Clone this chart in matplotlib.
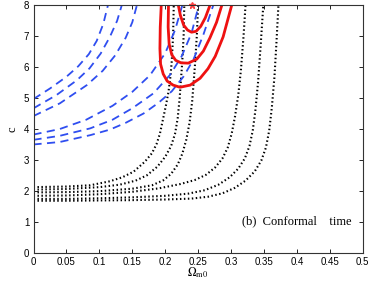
import matplotlib
matplotlib.use("Agg")
import matplotlib.pyplot as plt

plt.rcParams['mathtext.fontset'] = 'stix'
plt.rcParams['font.family'] = ['Liberation Sans', 'DejaVu Sans']

# Black dotted curves (x = Omega_m0, y = c)
b1_x = [0, 0.05, 0.086, 0.116, 0.135, 0.152, 0.169, 0.180, 0.187, 0.192, 0.196, 0.201, 0.205, 0.208, 0.210, 0.212, 0.213]
b1_y = [2.12, 2.14, 2.18, 2.31, 2.44, 2.62, 2.94, 3.22, 3.52, 3.85, 4.25, 4.75, 5.2, 5.7, 6.2, 7.0, 8.0]
b2_x = [0, 0.05, 0.10, 0.131, 0.155, 0.172, 0.188, 0.200, 0.209, 0.215, 0.219, 0.222, 0.226, 0.228, 0.229]
b2_y = [2.04, 2.06, 2.12, 2.2, 2.33, 2.5, 2.78, 3.1, 3.45, 3.85, 4.35, 5.0, 6.2, 7.0, 8.0]
b3_x = [0, 0.05, 0.10, 0.15, 0.18, 0.197, 0.209, 0.219, 0.226, 0.232, 0.237, 0.241, 0.245, 0.248, 0.250]
b3_y = [1.95, 1.96, 1.99, 2.07, 2.18, 2.34, 2.55, 2.85, 3.2, 3.65, 4.2, 4.9, 6.0, 7.0, 8.0]
b4_x = [0, 0.05, 0.10, 0.15, 0.19, 0.223, 0.245, 0.262, 0.276, 0.287, 0.295, 0.301, 0.306, 0.311, 0.315, 0.319, 0.322]
b4_y = [1.84, 1.85, 1.89, 1.97, 2.08, 2.22, 2.35, 2.52, 2.76, 3.05, 3.4, 3.85, 4.4, 5.1, 5.9, 7.0, 8.0]
b5_x = [0, 0.05, 0.10, 0.15, 0.20, 0.235, 0.26, 0.281, 0.298, 0.311, 0.321, 0.328, 0.333, 0.337, 0.341, 0.345, 0.349]
b5_y = [1.74, 1.74, 1.76, 1.79, 1.84, 1.91, 2.02, 2.2, 2.44, 2.72, 3.05, 3.45, 3.95, 4.6, 5.5, 6.7, 8.0]
b6_x = [0, 0.05, 0.10, 0.15, 0.20, 0.24, 0.265, 0.287, 0.306, 0.322, 0.336, 0.346, 0.353, 0.358, 0.362, 0.366, 0.369, 0.372]
b6_y = [1.68, 1.68, 1.69, 1.70, 1.72, 1.75, 1.81, 1.92, 2.1, 2.33, 2.63, 2.98, 3.4, 3.95, 4.7, 5.7, 6.8, 8.0]

# Blue dashed curves
u1_x = [0, 0.025, 0.05, 0.068, 0.084, 0.096, 0.106, 0.113]
u1_y = [4.97, 5.31, 5.69, 6.03, 6.42, 6.85, 7.4, 8.0]
u2_x = [0, 0.035, 0.066, 0.085, 0.102, 0.116, 0.127, 0.134]
u2_y = [4.67, 5.1, 5.58, 5.96, 6.44, 6.98, 7.5, 8.0]
u3_x = [0, 0.04, 0.081, 0.105, 0.124, 0.140, 0.150, 0.157]
u3_y = [4.42, 4.83, 5.42, 5.88, 6.38, 6.95, 7.45, 8.0]
l1_x = [0, 0.04, 0.08, 0.12, 0.15, 0.177, 0.20, 0.215, 0.226]
l1_y = [3.82, 4.0, 4.3, 4.75, 5.2, 5.74, 6.45, 7.2, 8.0]
l2_x = [0, 0.04, 0.086, 0.12, 0.15, 0.182, 0.207, 0.225, 0.24, 0.251]
l2_y = [3.65, 3.78, 4.02, 4.3, 4.67, 5.15, 5.74, 6.35, 7.1, 8.0]
l3_x = [0, 0.04, 0.086, 0.116, 0.14, 0.167, 0.19, 0.21, 0.228, 0.243, 0.258, 0.273]
l3_y = [3.5, 3.58, 3.8, 3.98, 4.2, 4.5, 4.85, 5.22, 5.7, 6.25, 7.05, 8.0]

# Red contours
r1_x = [0.220, 0.223, 0.228, 0.234, 0.240, 0.247, 0.254, 0.261, 0.268]
r1_y = [8.0, 7.68, 7.36, 7.2, 7.13, 7.16, 7.32, 7.6, 8.0]
r2_x = [0.205, 0.2045, 0.206, 0.210, 0.216, 0.224, 0.235, 0.248, 0.258, 0.268, 0.278, 0.286]
r2_y = [8.0, 7.3, 6.75, 6.4, 6.22, 6.14, 6.13, 6.26, 6.52, 6.95, 7.45, 8.0]
r3_x = [0.194, 0.1925, 0.192, 0.193, 0.197, 0.203, 0.212, 0.2225, 0.238, 0.253, 0.265, 0.276, 0.288, 0.301]
r3_y = [8.0, 7.3, 6.6, 6.1, 5.78, 5.55, 5.42, 5.35, 5.42, 5.64, 5.95, 6.35, 6.98, 8.0]

best_x = [0.241]
best_y = [8.0]

x_ticks = [0, 0.05, 0.1, 0.15, 0.2, 0.25, 0.3, 0.35, 0.4, 0.45, 0.5]
x_ticklabels = ['0', '0.05', '0.1', '0.15', '0.2', '0.25', '0.3', '0.35', '0.4', '0.45', '0.5']
y_ticks = [0, 1, 2, 3, 4, 5, 6, 7, 8]

fig = plt.figure(figsize=(3.74, 2.81), dpi=100)
ax = fig.add_axes([0.0896, 0.1007, 0.8802, 0.8804])

dot_style = dict(color='black', lw=1.5, linestyle=(0, (0.7, 1.2)))
for xs, ys in [(b1_x, b1_y), (b2_x, b2_y), (b3_x, b3_y), (b4_x, b4_y), (b5_x, b5_y), (b6_x, b6_y)]:
    ax.plot(xs, ys, **dot_style)

dash_style = dict(color='#2f4ef0', lw=1.3, linestyle=(0, (4.5, 3)))
for xs, ys in [(u1_x, u1_y), (u2_x, u2_y), (u3_x, u3_y), (l1_x, l1_y), (l2_x, l2_y), (l3_x, l3_y)]:
    ax.plot(xs, ys, **dash_style)

for xs, ys in [(r1_x, r1_y), (r2_x, r2_y), (r3_x, r3_y)]:
    ax.plot(xs, ys, color='#ee1111', lw=2.0)

ax.plot(best_x, best_y, marker='*', color='#ff4444', ms=5, ls='none', clip_on=False)

ax.set_xlim(0, 0.5)
ax.set_ylim(0, 8)
ax.set_xticks(x_ticks)
ax.set_xticklabels(x_ticklabels)
ax.set_yticks(y_ticks)
ax.tick_params(direction='in', top=True, right=True, labelsize=7, length=3, width=0.6, pad=3)
for s in ax.spines.values():
    s.set_linewidth(0.8)
    s.set_color('#333333')

ax.set_xlabel(r'$\Omega_{\rm m0}$', fontsize=8.5, labelpad=-1)
ax.set_ylabel('c', fontsize=9, family='Liberation Serif', labelpad=4)

ax.text(0.317, 1.0, '(b)  Conformal    time', fontsize=9, family='Liberation Serif',
        ha='left', va='center')

fig.savefig('out.png', dpi=100)
